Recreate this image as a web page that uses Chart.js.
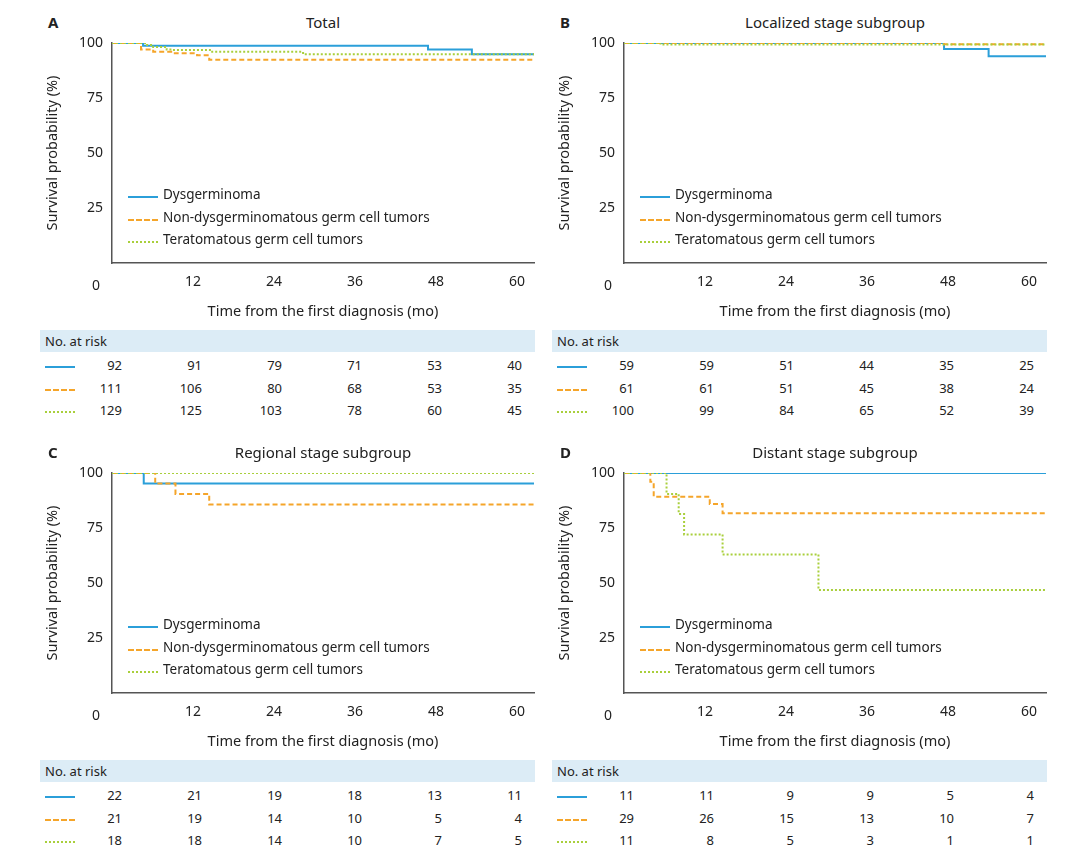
<!DOCTYPE html>
<html><head><meta charset="utf-8">
<script src="https://cdn.jsdelivr.net/npm/chart.js@4"></script>
<style>
body{margin:0;width:1080px;height:857px;background:#fff;font-family:"Noto Sans",sans-serif;color:#222;position:relative;overflow:hidden}
.abs{position:absolute;white-space:nowrap}
.cv{position:absolute}
.hdr{position:absolute;background:#dcecf6;height:22px;font-size:13px;line-height:22px;padding-left:5px;box-sizing:border-box}
.num{position:absolute;font-size:13px;text-align:right;width:40px}
.lg{position:absolute;font-size:13.5px}
</style></head><body>
<script>
const timeTicks=[0,12,24,36,48,60];
const seriesNames=["Dysgerminoma","Non-dysgerminomatous germ cell tumors","Teratomatous germ cell tumors"];
const panelTitles=["Total","Localized stage subgroup","Regional stage subgroup","Distant stage subgroup"];
const panelLetters=["A","B","C","D"];
// KM curves: [time, survival %]
const A_dys=[[0,100],[4.6,98.8],[46.8,97.1],[53.3,94.9],[62.5,94.9]];
const A_non=[[0,100],[4.3,97.1],[6.1,96],[9.3,95.3],[12.6,94.4],[14.4,92.4],[62.5,92.4]];
const A_ter=[[0,100],[5.2,99.1],[6.1,98.2],[8.1,97],[8.9,96.8],[14.5,96],[28.3,94.9],[62.5,94.9]];
const B_dys=[[0,100],[47.4,97.3],[54,94],[62.5,94]];
const B_non=[[0,100],[47.4,99.4],[62.5,99.4]];
const B_ter=[[0,100],[5.4,99.3],[62.5,99.3]];
const C_dys=[[0,100],[4.7,95.2],[62.5,95.2]];
const C_non=[[0,100],[6.4,95.2],[9.4,90.5],[14.4,85.7],[62.5,85.7]];
const C_ter=[[0,100],[62.5,100]];
const D_dys=[[0,100],[62.5,100]];
const D_non=[[0,100],[3.9,96],[4.4,89.2],[12.7,85.9],[14.6,81.7],[62.5,81.7]];
const D_ter=[[0,100],[6.3,90.5],[8.1,81.4],[8.9,72.1],[14.6,63],[28.8,46.8],[62.5,46.8]];
// numbers at risk
const A_risk=[[92,91,79,71,53,40],[111,106,80,68,53,35],[129,125,103,78,60,45]];
const B_risk=[[59,59,51,44,35,25],[61,61,51,45,38,24],[100,99,84,65,52,39]];
const C_risk=[[22,21,19,18,13,11],[21,19,14,10,5,4],[18,18,14,10,7,5]];
const D_risk=[[11,11,9,9,5,4],[29,26,15,13,10,7],[11,8,5,3,1,1]];

const colors=["#2b9fd9","#f5a52a","#a9cf3c"];
const dashes=[[],[5,3],[2,2]];
const curves=[[A_dys,A_non,A_ter],[B_dys,B_non,B_ter],[C_dys,C_non,C_ter],[D_dys,D_non,D_ter]];
const risks=[A_risk,B_risk,C_risk,D_risk];
const offs=[[0,0],[512,0],[0,430],[512,430]];

function el(cls,txt,css){const d=document.createElement('div');d.className=cls;if(txt!==null)d.textContent=txt;Object.assign(d.style,css);document.body.appendChild(d);return d;}
function sample(x,y,i){const s=document.createElement('div');Object.assign(s.style,{position:'absolute',left:x+'px',top:y+'px',width:'30px',height:'0',borderTop:(i==0?'2px solid ':i==1?'2px dashed ':'2px dotted ')+colors[i]});document.body.appendChild(s);}

panelTitles.forEach((t,p)=>{
  const [ox,oy]=offs[p];
  el('abs',panelLetters[p],{left:(48+ox)+'px',top:(12+oy)+'px',fontWeight:'bold',fontSize:'15px'});
  el('abs',t,{left:(112+ox)+'px',width:'422px',textAlign:'center',top:(12+oy)+'px',fontSize:'15px'});
  const c=document.createElement('canvas');c.className='cv';
  c.width=500;c.height=317;
  Object.assign(c.style,{left:(40+ox)+'px',top:(8+oy)+'px',width:'500px',height:'317px'});
  document.body.appendChild(c);
  el('abs','0',{left:(92+ox)+'px',top:(275+oy)+'px',fontSize:'14px'});
  seriesNames.forEach((n,i)=>{sample(128+ox,196+oy+i*22.5,i);el('lg',n,{left:(163+ox)+'px',top:(185+oy+i*22.5)+'px'});});
  el('hdr','No. at risk',{left:(40+ox)+'px',top:(330+oy)+'px',width:'495px'});
  risks[p].forEach((row,i)=>{
    sample(45+ox,366+oy+i*22.5,i);
    row.forEach((v,k)=>el('num',String(v),{left:(82+80*k+ox)+'px',top:(356+oy+i*22.5)+'px'}));
  });
  new Chart(c,{type:'line',
    data:{datasets:curves[p].map((d,i)=>({data:d.map(q=>({x:q[0],y:q[1]})),borderColor:colors[i],borderWidth:2,borderDash:dashes[i],stepped:true,pointRadius:0,fill:false,order:2-i}))},
    options:{responsive:false,animation:false,devicePixelRatio:1,
      layout:{padding:{top:35,right:6,left:0,bottom:0}},
      plugins:{legend:{display:false},tooltip:{enabled:false}},
      scales:{
        x:{type:'linear',min:0,max:62.5,afterBuildTicks:s=>{s.ticks=timeTicks.map(v=>({value:v}));},
          afterFit:s=>{s.height=62;},
          grid:{display:false,drawTicks:true,tickLength:5,color:'#555'},border:{color:'#555',width:1.5},
          ticks:{color:'#222',font:{size:14,family:'Noto Sans'},callback:v=>v===0?'':v,maxRotation:0,padding:6},
          title:{display:true,text:'Time from the first diagnosis (mo)',color:'#222',font:{size:14.5,family:'Noto Sans'},padding:{top:4}}},
        y:{min:0,max:100,afterBuildTicks:s=>{s.ticks=[0,25,50,75,100].map(v=>({value:v}));},
          afterFit:s=>{s.width=72;},
          grid:{display:false,tickLength:5,color:'#555'},border:{color:'#555',width:1.5},
          ticks:{color:'#222',font:{size:14,family:'Noto Sans'},callback:v=>v===0?'':v,padding:4},
          title:{display:true,text:'Survival probability (%)',color:'#222',font:{size:14.5,family:'Noto Sans'},padding:{bottom:4}}}
      }}});
});
</script>
</body></html>
